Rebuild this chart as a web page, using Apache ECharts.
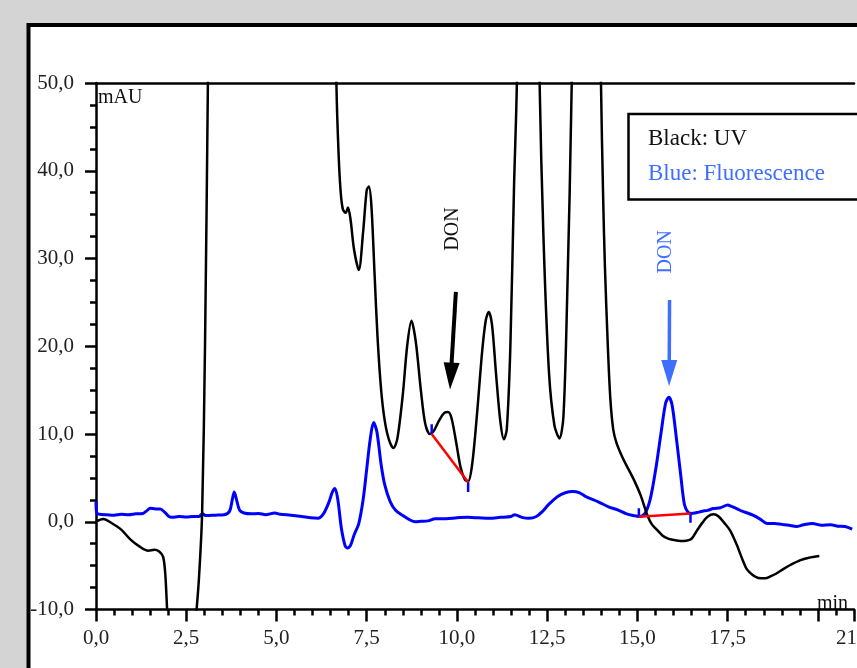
<!DOCTYPE html>
<html>
<head>
<meta charset="utf-8">
<script src="https://cdn.jsdelivr.net/npm/echarts@6/dist/echarts.min.js"></script>
<style>
  html, body { margin: 0; padding: 0; background: #d4d4d4; }
  #chart { width: 857px; height: 668px; }
</style>
</head>
<body>
<div id="chart"></div>
<script>
// UV trace (black), minutes / mAU
const uvTime = [0.00, 0.20, 0.45, 0.70, 0.95, 1.20, 1.45, 1.62, 1.75, 1.86, 1.92, 1.97, 2.05, 2.3, 2.6, 2.75, 2.85, 2.94, 3.02, 3.1, 3.2, 3.6, 5.0, 6.3, 6.55, 6.66,
  6.72, 6.78, 6.84, 6.92, 6.98, 7.05, 7.15, 7.28, 7.40, 7.50, 7.56, 7.63, 7.72, 7.80, 7.90, 8.00, 8.12, 8.24, 8.35, 8.50, 8.62, 8.74, 8.86, 9.00, 9.12, 9.25,
  9.35, 9.50, 9.65, 9.75, 9.85, 9.98, 10.10, 10.22, 10.31, 10.42, 10.55, 10.70, 10.80, 10.88, 10.97, 11.08, 11.20, 11.30, 11.38, 11.48, 11.58, 11.66, 11.75,
  12.0, 12.2, 12.29, 12.40, 12.55, 12.70, 12.84, 12.95, 13.05, 13.18, 13.3, 13.6, 13.9, 13.99, 14.05, 14.10, 14.18, 14.25, 14.33, 14.42, 14.60, 14.75, 14.90,
  15.09, 15.27, 15.40, 15.55, 15.70, 15.87, 16.05, 16.29, 16.42, 16.51, 16.65, 16.80, 16.95, 17.11, 17.25, 17.40, 17.57, 17.75, 17.90, 18.03, 18.20, 18.35,
  18.54, 18.70, 18.85, 19.04, 19.25, 19.50, 19.75, 20.04];
const uvSignal = [0.0, 0.3, -0.2, -0.9, -2.0, -2.8, -3.3, -3.2, -3.4, -4.0, -6.0, -10, -16, -24, -22, -12, -6.6, 1.0, 20, 50, 90, 150, 200, 150, 80, 50,
  42, 37.5, 35.6, 35.2, 35.8, 34.5, 31, 28.7, 33, 37.8, 38.2, 36, 28, 21, 15, 11.5, 9.3, 8.4, 9.5, 14.5, 20, 22.9, 20.5, 15, 11.2, 10.0,
  10.3, 11.5, 12.4, 12.5, 11.8, 9.0, 6.2, 4.8, 4.6, 6.5, 12.0, 19.5, 23, 23.9, 22.5, 17, 11.5, 9.4, 10.5, 20, 38, 50, 80,
  200, 80, 50, 32, 17, 11, 9.5, 12, 25, 50, 100, 200, 80, 50, 37, 29, 20, 14, 10.5, 9.0, 7.2, 6.0, 4.8,
  3.0, 0.8, -0.3, -0.95, -1.6, -1.95, -2.1, -2.2, -2.1, -1.9, -1.0, -0.1, 0.6, 0.85, 0.6, -0.1, -1.0, -2.6, -4.2, -5.4, -6.1, -6.4,
  -6.45, -6.2, -5.9, -5.4, -4.9, -4.4, -4.1, -3.9];

// Fluorescence trace (blue)
const flTime = [0.00, 0.02, 0.10, 0.30, 0.50, 0.70, 0.90, 1.10, 1.30, 1.42, 1.50, 1.65, 1.78, 1.90, 2.02, 2.10, 2.30, 2.50, 2.70, 2.85, 2.95, 3.05, 3.30,
  3.55, 3.70, 3.78, 3.83, 3.90, 3.98, 4.10, 4.30, 4.50, 4.70, 4.95, 5.10, 5.40, 5.70, 5.95, 6.15, 6.30, 6.45, 6.55, 6.62, 6.70, 6.80, 6.90, 6.97, 7.05,
  7.15, 7.28, 7.40, 7.50, 7.60, 7.69, 7.78, 7.90, 8.00, 8.15, 8.30, 8.50, 8.70, 8.85, 9.00, 9.20, 9.40, 9.70, 10.0, 10.3, 10.6, 10.9, 11.2, 11.5, 11.6,
  11.8, 12.0, 12.2, 12.35, 12.55, 12.8, 13.0, 13.2, 13.4, 13.6, 13.9, 14.2, 14.45, 14.7, 14.9, 15.05, 15.2, 15.35, 15.5, 15.65, 15.78, 15.87, 15.96,
  16.08, 16.2, 16.3, 16.4, 16.5, 16.65, 16.8, 16.95, 17.1, 17.3, 17.5, 17.6, 17.75, 17.9, 18.05, 18.2, 18.4, 18.6, 18.8, 19.0, 19.2, 19.4, 19.6,
  19.85, 20.1, 20.35, 20.55, 20.75, 20.95];
const flSignal = [2.3, 1.0, 0.85, 0.8, 0.75, 0.85, 0.8, 0.9, 0.95, 1.3, 1.55, 1.45, 1.45, 1.1, 0.6, 0.5, 0.6, 0.55, 0.6, 0.6, 0.9, 0.7, 0.75,
  0.8, 1.2, 2.6, 3.4, 2.4, 1.3, 1.0, 0.9, 0.95, 0.8, 1.0, 0.85, 0.75, 0.6, 0.45, 0.4, 0.9, 2.2, 3.4, 3.8, 2.5, -0.8, -2.7, -3.0, -2.7,
  -1.5, -0.2, 2.5, 6.0, 9.5, 11.3, 10.3, 6.5, 4.2, 2.3, 1.3, 0.7, 0.2, 0.0, 0.05, 0.1, 0.35, 0.35, 0.45, 0.5, 0.45, 0.4, 0.5, 0.6, 0.8,
  0.5, 0.4, 0.6, 1.1, 2.0, 2.9, 3.3, 3.45, 3.3, 2.8, 2.3, 1.7, 1.35, 0.9, 0.7, 0.6, 0.9, 2.5, 5.8, 10, 13.5, 14.2, 13.3,
  9.5, 5.3, 2.0, 1.1, 0.95, 1.05, 1.2, 1.3, 1.5, 1.6, 1.9, 1.75, 1.5, 1.2, 1.0, 0.75, 0.3, -0.2, -0.2, -0.3, -0.4, -0.55, -0.35,
  -0.2, -0.4, -0.35, -0.5, -0.55, -0.85];

// integration baselines (red) and peak start/end markers (blue)
const uvBaseTime = [9.30, 10.31];
const uvBaseSignal = [10.0, 4.5];
const flBaseTime = [15.04, 16.47];
const flBaseSignal = [0.57, 0.95];
const markerTime = [9.30, 10.31, 15.04, 16.47];
const markerFrom = [10.0, 4.5, 0.57, 0.95];
const markerTo = [11.1, 3.4, 1.55, -0.1];

// DON arrows and labels
const uvArrowTime = [9.97, 9.83];
const uvArrowSignal = [26.2, 16.6];
const flArrowTime = [15.89, 15.88];
const flArrowSignal = [25.27, 16.95];
const uvLabelPos = [9.88, 33.36];
const flLabelPos = [15.79, 30.77];

const xTickStep = 2.5;
const yTickStep = 10;
const FONT = 'Liberation Serif';
const LEGEND_BLUE = '#3f6fff';

const zip = (a, b) => a.map((v, i) => [v, b[i]]);
const fmt = v => v.toFixed(1).replace('.', ',');

const chart = echarts.init(document.getElementById('chart'), null, { renderer: 'canvas' });

const markerSeries = markerTime.map((t, i) => ({
  type: 'line',
  data: [[t, markerFrom[i]], [t, markerTo[i]]],
  symbol: 'none',
  lineStyle: { color: '#0000ff', width: 2.5 },
  z: 4,
  silent: true,
}));

chart.setOption({
  animation: false,
  backgroundColor: '#d4d4d4',
  grid: { left: 96, top: 83, right: -2, bottom: 58.5 },
  xAxis: [
    {
      type: 'value', min: 0, max: 21, interval: xTickStep, position: 'bottom',
      axisLine: { onZero: false, lineStyle: { color: '#000', width: 2.5 } },
      axisTick: { length: 12, lineStyle: { color: '#000', width: 2.5 } },
      axisLabel: {
        interval: 0, margin: 18, color: '#222', fontFamily: FONT, fontSize: 21,
        formatter: v => (v >= 20 ? '' : fmt(v)),
      },
      splitLine: { show: false },
    },
    {
      type: 'value', min: 0, max: 21, interval: 0.5, position: 'bottom',
      axisLine: { show: false, onZero: false },
      axisTick: { length: 6, lineStyle: { color: '#000', width: 2.5 } },
      axisLabel: { show: false },
      splitLine: { show: false },
    },
    {
      type: 'value', min: 0, max: 21, position: 'top',
      axisLine: { onZero: false, lineStyle: { color: '#000', width: 2.5 } },
      axisTick: { show: false },
      axisLabel: { show: false },
      splitLine: { show: false },
    },
  ],
  yAxis: {
    type: 'value', min: -10, max: 50, interval: yTickStep,
    axisLine: { show: true, onZero: false, lineStyle: { color: '#000', width: 2.5 } },
    axisTick: { show: true, length: 11, lineStyle: { color: '#000', width: 2.5 } },
    minorTick: { show: true, splitNumber: 4, length: 6, lineStyle: { color: '#000', width: 2.5 } },
    axisLabel: { margin: 22, color: '#222', fontFamily: FONT, fontSize: 21, formatter: fmt },
    splitLine: { show: false },
  },
  series: [
    {
      name: 'Fluorescence',
      type: 'line',
      data: zip(flTime, flSignal),
      symbol: 'none',
      smooth: 0.3,
      lineStyle: { color: '#0000ff', width: 3 },
      z: 2,
      markLine: {
        silent: true,
        symbol: ['none', 'triangle'],
        symbolSize: [16, 26],
        label: { show: false },
        lineStyle: { color: LEGEND_BLUE, width: 3.5, type: 'solid' },
        data: [[
          { coord: [flArrowTime[0], flArrowSignal[0]] },
          { coord: [flArrowTime[1], flArrowSignal[1]] },
        ]],
      },
    },
    {
      name: 'UV',
      type: 'line',
      data: zip(uvTime, uvSignal),
      symbol: 'none',
      smooth: 0.3,
      lineStyle: { color: '#000', width: 2.5 },
      z: 3,
      markLine: {
        silent: true,
        symbol: ['none', 'triangle'],
        symbolSize: [16, 27],
        label: { show: false },
        lineStyle: { color: '#000', width: 4, type: 'solid' },
        data: [[
          { coord: [uvArrowTime[0], uvArrowSignal[0]] },
          { coord: [uvArrowTime[1], uvArrowSignal[1]] },
        ]],
      },
    },
    {
      type: 'line', data: zip(uvBaseTime, uvBaseSignal), symbol: 'none',
      lineStyle: { color: '#ff0000', width: 2.5 }, z: 5, silent: true,
    },
    {
      type: 'line', data: zip(flBaseTime, flBaseSignal), symbol: 'none',
      lineStyle: { color: '#ff0000', width: 2.5 }, z: 5, silent: true,
    },
    ...markerSeries,
  ],
});

const uvLab = chart.convertToPixel({ gridIndex: 0 }, uvLabelPos);
const flLab = chart.convertToPixel({ gridIndex: 0 }, flLabelPos);

chart.setOption({
  graphic: [
    {
      type: 'rect', z: -10, silent: true,
      shape: { x: 28.5, y: 25, width: 900, height: 700 },
      style: { fill: '#fff', stroke: '#000', lineWidth: 4 },
    },
    {
      type: 'rect', z: 10, silent: true,
      shape: { x: 628.5, y: 114, width: 300, height: 85.5 },
      style: { fill: '#fff', stroke: '#000', lineWidth: 2.5 },
    },
    {
      type: 'text', z: 11, silent: true, x: 648, y: 139,
      style: { text: 'Black: UV', fill: '#111', font: '23px "Liberation Serif"', verticalAlign: 'middle' },
    },
    {
      type: 'text', z: 11, silent: true, x: 648, y: 174,
      style: { text: 'Blue: Fluorescence', fill: LEGEND_BLUE, font: '23px "Liberation Serif"', verticalAlign: 'middle' },
    },
    {
      type: 'text', z: 11, silent: true, x: 98, y: 98,
      style: { text: 'mAU', fill: '#111', font: '20px "Liberation Serif"', verticalAlign: 'middle' },
    },
    {
      type: 'text', z: 11, silent: true, x: 817, y: 614,
      style: { text: 'min', fill: '#111', font: '20px "Liberation Serif"', verticalAlign: 'bottom' },
    },
    {
      type: 'text', z: 11, silent: true, x: 836, y: 627.5,
      style: { text: '21', fill: '#222', font: '21px "Liberation Serif"', verticalAlign: 'top' },
    },
    {
      type: 'text', z: 11, silent: true, x: uvLab[0], y: uvLab[1], rotation: Math.PI / 2,
      style: { text: 'DON', fill: '#111', font: '20px "Liberation Serif"', align: 'center', verticalAlign: 'middle' },
    },
    {
      type: 'text', z: 11, silent: true, x: flLab[0], y: flLab[1], rotation: Math.PI / 2,
      style: { text: 'DON', fill: LEGEND_BLUE, font: '20px "Liberation Serif"', align: 'center', verticalAlign: 'middle' },
    },
  ],
});
</script>
</body>
</html>
